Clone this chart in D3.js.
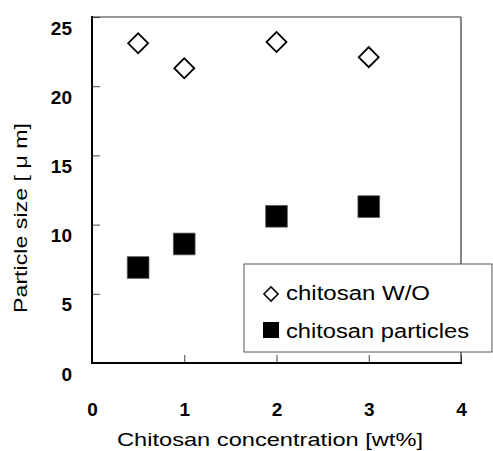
<!DOCTYPE html>
<html>
<head>
<meta charset="utf-8">
<script src="https://cdn.jsdelivr.net/npm/d3@7"></script>
<style>
  body { margin: 0; background: #fff; }
  text { font-family: "Liberation Sans", Arial, sans-serif; fill: #000; }
</style>
</head>
<body>
<div id="chart"></div>
<script>
// data
const concentration = [0.5, 1, 2, 3];
const chitosanWO = [23.1, 21.3, 23.2, 22.1];
const chitosanParticles = [6.9, 8.6, 10.6, 11.3];
const xTicks = [0, 1, 2, 3, 4];
const yTicks = [0, 5, 10, 15, 20, 25];
const seriesNames = ["chitosan W/O", "chitosan particles"];

const W = 493, H = 451;
const plot = { left: 92, right: 461, top: 17, bottom: 363 };

const svg = d3.select("#chart")
  .append("svg")
  .attr("width", W)
  .attr("height", H);

const x = d3.scaleLinear().domain([0, 4]).range([plot.left, plot.right]);
const y = d3.scaleLinear().domain([0, 25]).range([plot.bottom, plot.top]);

// x axis, ticks pointing into the plot
const xAxis = svg.append("g")
  .attr("transform", `translate(0,${plot.bottom})`)
  .call(d3.axisBottom(x).tickValues(xTicks).tickFormat(d3.format("d")).tickSize(-8).tickPadding(40));
xAxis.select(".domain").remove();
xAxis.selectAll("line").attr("stroke", "#444");
xAxis.selectAll("text")
  .attr("font-size", 19)
  .attr("font-weight", "bold")
  .attr("font-family", "Liberation Sans, Arial, sans-serif");

// y axis
const yAxis = svg.append("g")
  .attr("transform", `translate(${plot.left},0)`)
  .call(d3.axisLeft(y).tickValues(yTicks).tickFormat(d3.format("d")).tickSize(-8).tickPadding(20));
yAxis.select(".domain").remove();
yAxis.selectAll("line").attr("stroke", "#444");
yAxis.selectAll("text")
  .attr("dy", "17px")
  .attr("font-size", 19)
  .attr("font-weight", "bold")
  .attr("font-family", "Liberation Sans, Arial, sans-serif");

// frame: thin grey top/right, heavy black left/bottom
svg.append("line")
  .attr("x1", plot.left).attr("x2", plot.right)
  .attr("y1", plot.top).attr("y2", plot.top)
  .attr("stroke", "#333").attr("stroke-width", 1.2);
svg.append("line")
  .attr("x1", plot.right).attr("x2", plot.right)
  .attr("y1", plot.top).attr("y2", plot.bottom)
  .attr("stroke", "#333").attr("stroke-width", 1.2);
svg.append("line")
  .attr("x1", plot.left).attr("x2", plot.left)
  .attr("y1", plot.top - 1).attr("y2", plot.bottom + 1)
  .attr("stroke", "#000").attr("stroke-width", 2);
svg.append("line")
  .attr("x1", plot.left - 1).attr("x2", plot.right + 1)
  .attr("y1", plot.bottom).attr("y2", plot.bottom)
  .attr("stroke", "#000").attr("stroke-width", 2);

// markers
const diamond = d3.symbol().type(d3.symbolSquare).size(200);
const square = d3.symbol().type(d3.symbolSquare).size(470);

svg.append("g")
  .selectAll("path")
  .data(concentration.map((c, i) => ({ x: c, y: chitosanWO[i] })))
  .join("path")
  .attr("d", diamond)
  .attr("transform", d => `translate(${x(d.x)},${y(d.y)}) rotate(45)`)
  .attr("fill", "#fff")
  .attr("stroke", "#000")
  .attr("stroke-width", 1.8);

svg.append("g")
  .selectAll("path")
  .data(concentration.map((c, i) => ({ x: c, y: chitosanParticles[i] })))
  .join("path")
  .attr("d", square)
  .attr("transform", d => `translate(${x(d.x)},${y(d.y)})`)
  .attr("fill", "#000")
  .attr("stroke", "#555")
  .attr("stroke-width", 0.8);

// legend box (sits over the lower right corner of the frame)
const legend = svg.append("g").attr("transform", "translate(244,264)");
legend.append("rect")
  .attr("width", 248).attr("height", 88)
  .attr("fill", "#fff")
  .attr("stroke", "#555")
  .attr("stroke-width", 1);

legend.append("path")
  .attr("d", d3.symbol().type(d3.symbolSquare).size(100))
  .attr("transform", "translate(27,30) rotate(45)")
  .attr("fill", "#fff")
  .attr("stroke", "#000")
  .attr("stroke-width", 1.5);
legend.append("path")
  .attr("d", d3.symbol().type(d3.symbolSquare).size(256))
  .attr("transform", "translate(27,66)")
  .attr("fill", "#000");

legend.append("text")
  .attr("x", 42).attr("y", 36)
  .attr("font-size", 20)
  .attr("textLength", 144)
  .attr("lengthAdjust", "spacingAndGlyphs")
  .text(seriesNames[0]);
legend.append("text")
  .attr("x", 42).attr("y", 74)
  .attr("font-size", 20)
  .attr("textLength", 183)
  .attr("lengthAdjust", "spacingAndGlyphs")
  .text(seriesNames[1]);

// axis titles
svg.append("text")
  .attr("x", 117).attr("y", 446)
  .attr("font-size", 19)
  .attr("textLength", 306)
  .attr("lengthAdjust", "spacingAndGlyphs")
  .text("Chitosan concentration [wt%]");

svg.append("text")
  .attr("transform", "translate(27,313) rotate(-90)")
  .attr("font-size", 19)
  .attr("textLength", 190)
  .attr("lengthAdjust", "spacingAndGlyphs")
  .text("Particle size [ μ m]");
</script>
</body>
</html>
